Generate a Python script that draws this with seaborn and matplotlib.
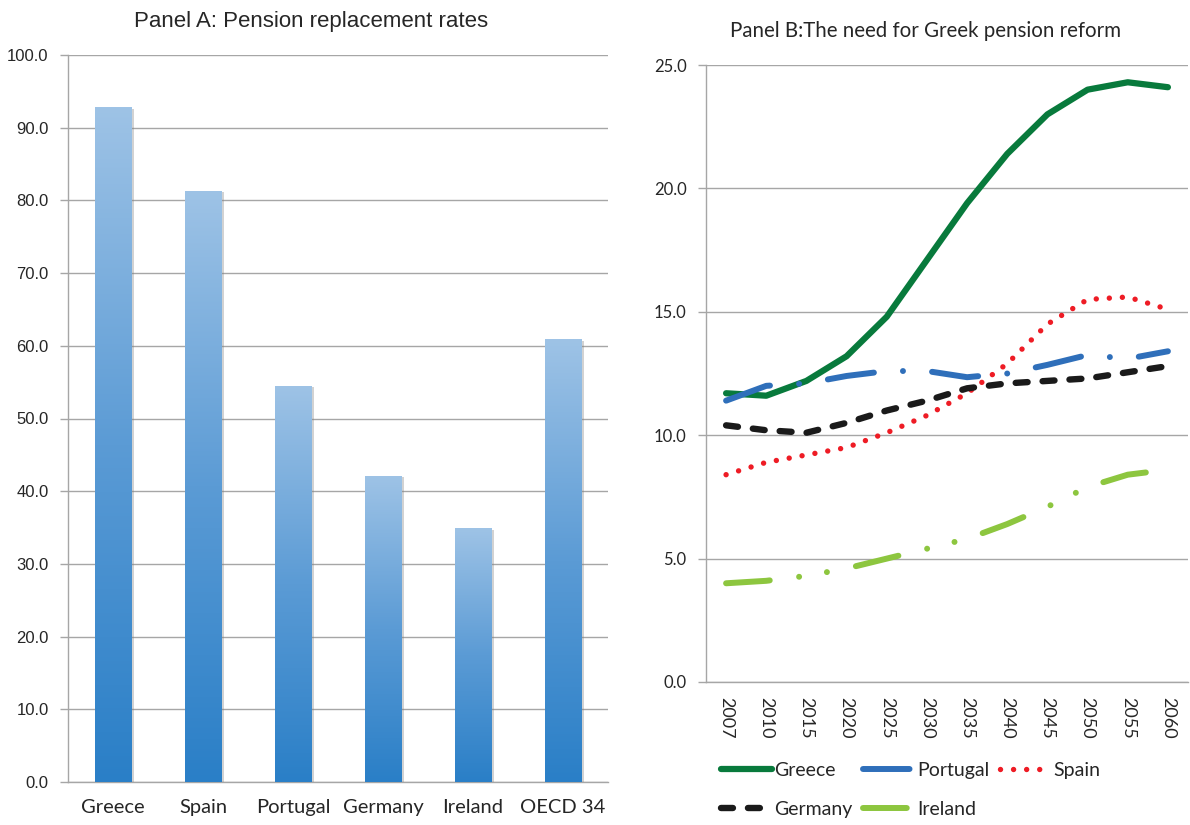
import numpy as np
import pandas as pd
import matplotlib
matplotlib.use("Agg")
import matplotlib.pyplot as plt
import matplotlib.patheffects as pe
import seaborn as sns
from matplotlib.colors import LinearSegmentedColormap

# Panel A data
countries = ["Greece", "Spain", "Portugal", "Germany", "Ireland", "OECD 34"]
replacement_rates = [92.8, 81.3, 54.5, 42.1, 34.9, 60.9]

# Panel B data (pension spending projections)
years = ["2007", "2010", "2015", "2020", "2025", "2030",
         "2035", "2040", "2045", "2050", "2055", "2060"]
greece = [11.7, 11.6, 12.2, 13.2, 14.8, 17.1, 19.4, 21.4, 23.0, 24.0, 24.3, 24.1]
portugal = [11.4, 12.0, 12.1, 12.4, 12.6, 12.6, 12.35, 12.5, 12.85, 13.25, 13.1, 13.4]
spain = [8.4, 8.9, 9.2, 9.5, 10.1, 10.8, 11.7, 12.9, 14.5, 15.5, 15.6, 15.1]
germany = [10.4, 10.2, 10.1, 10.5, 11.0, 11.4, 11.9, 12.1, 12.2, 12.3, 12.55, 12.8]
ireland = [4.0, 4.1, 4.3, 4.6, 5.0, 5.4, 5.8, 6.4, 7.1, 7.9, 8.4, 8.6]

sns.set_style("white")
plt.rcParams["font.family"] = ["Lato", "DejaVu Sans"]
plt.rcParams["lines.scale_dashes"] = False

grid_col = "#a6a6a6"
text_col = "#262626"

fig = plt.figure(figsize=(11.9, 8.25), dpi=100)
W, H = 1190, 825
axA = fig.add_axes([68 / W, 1 - 782 / H, (608 - 68) / W, (782 - 55) / H])
axB = fig.add_axes([706 / W, 1 - 682 / H, (1188 - 706) / W, (682 - 65) / H])

# ---- Panel A: bars with a vertical gradient
sns.barplot(x=countries, y=replacement_rates, ax=axA, color="#9ec3e6",
            width=0.41, saturation=1, edgecolor="none", zorder=3)
cmap = LinearSegmentedColormap.from_list("bar", ["#2a7fc7", "#5b9bd5", "#9ec3e6"])
grad = np.linspace(0, 1, 256).reshape(-1, 1)
for p in axA.patches:
    p.set_path_effects([pe.SimplePatchShadow(offset=(2, -1), shadow_rgbFace="#7f7f7f", alpha=0.35),
                        pe.Normal()])
    x0, w, h = p.get_x(), p.get_width(), p.get_height()
    im = axA.imshow(grad, cmap=cmap, origin="lower", aspect="auto",
                    extent=[x0, x0 + w, 0, h], zorder=4)
    im.set_clip_path(p)

axA.set_xlim(-0.5, 5.5)
axA.set_ylim(0, 100)
axA.set_yticks(np.arange(0, 101, 10))
axA.set_yticklabels([f"{v:.1f}" for v in np.arange(0, 101, 10)],
                    fontfamily="Liberation Sans", fontsize=12, color=text_col)
axA.set_xticks(range(len(countries)))
axA.set_xticklabels(countries, fontsize=14.5, color=text_col)
axA.set_xticks(np.arange(-0.5, 6, 1), minor=True)
axA.tick_params(axis="x", which="major", length=0, pad=12)
axA.tick_params(axis="x", which="minor", length=6, color=grid_col, width=1)
axA.tick_params(axis="y", length=6, color=grid_col, width=1, pad=8, left=True)
axA.yaxis.grid(True, color=grid_col, lw=1)
axA.set_axisbelow(True)
axA.set_xlabel("")
for s in ["top", "right"]:
    axA.spines[s].set_visible(False)
for s in ["left", "bottom"]:
    axA.spines[s].set_color(grid_col)
    axA.spines[s].set_linewidth(1)
fig.text(311 / W, 1 - 22 / H, "Panel A: Pension replacement rates",
         fontfamily="Liberation Sans", fontsize=16, color=text_col,
         ha="center", va="center")

# ---- Panel B: projection lines
series = {"Greece": greece, "Portugal": portugal, "Spain": spain,
          "Germany": germany, "Ireland": ireland}
colors = {"Greece": "#087a3c", "Portugal": "#2f6fba", "Spain": "#ee1c25",
          "Germany": "#1a1a1a", "Ireland": "#8dc63f"}
dashes = {"Greece": None,
          "Portugal": (33.5, 21.0, 0.01, 21.0),
          "Spain": (0.01, 9.4),
          "Germany": (8.6, 10.8),
          "Ireland": (31.5, 21.3, 0.01, 20.3, 0.01, 21.3)}
widths = {"Greece": 4.5, "Portugal": 4.3, "Spain": 3.9, "Germany": 4.6, "Ireland": 4.3}

df = pd.concat([pd.DataFrame({"country": name, "year": years,
                              "pos": np.arange(len(years)), "value": vals})
                for name, vals in series.items()], ignore_index=True)

handles = {}
for name in series:
    sub = df[df["country"] == name]
    sns.lineplot(data=sub, x="pos", y="value", ax=axB, color=colors[name],
                 lw=widths[name], label=name, zorder=3)
    line = axB.lines[-1]
    line.set_solid_capstyle("round")
    line.set_dash_capstyle("round")
    if dashes[name] is not None:
        line.set_dashes(dashes[name])
    handles[name] = line

axB.set_xlim(-0.5, len(years) - 0.5)
axB.set_ylim(0, 25)
axB.set_yticks(np.arange(0, 26, 5))
axB.set_yticklabels([f"{v:.1f}" for v in np.arange(0, 26, 5)], fontsize=12, color=text_col)
axB.set_xticks(range(len(years)))
axB.set_xticklabels(years, rotation=-90, fontsize=13, color=text_col)
axB.set_xticks(np.arange(-0.5, len(years), 1), minor=True)
axB.tick_params(axis="x", which="major", length=0, pad=11)
axB.tick_params(axis="x", which="minor", length=7, color=grid_col, width=1)
axB.tick_params(axis="y", length=6, color=grid_col, width=1, pad=8, left=True)
axB.yaxis.grid(True, color=grid_col, lw=1)
axB.set_axisbelow(True)
axB.set_xlabel("")
axB.set_ylabel("")
for s in ["top", "right"]:
    axB.spines[s].set_visible(False)
for s in ["left", "bottom"]:
    axB.spines[s].set_color(grid_col)
    axB.spines[s].set_linewidth(1)

order = ["Greece", "Germany", "Portugal", "Ireland", "Spain"]
axB.legend([handles[n] for n in order], order, loc="upper left",
           bbox_to_anchor=(721 / W, 1 - 762 / H), bbox_transform=fig.transFigure,
           ncol=3, frameon=False, fontsize=14, handlelength=2.6,
           handletextpad=0.15, columnspacing=0.55, labelspacing=1.12,
           borderpad=0, borderaxespad=0, labelcolor=text_col)

fig.text(926 / W, 1 - 31 / H, "Panel B:The need for Greek pension reform",
         fontsize=14.8, color=text_col, ha="center", va="center")

fig.savefig("out.png", dpi=100)
